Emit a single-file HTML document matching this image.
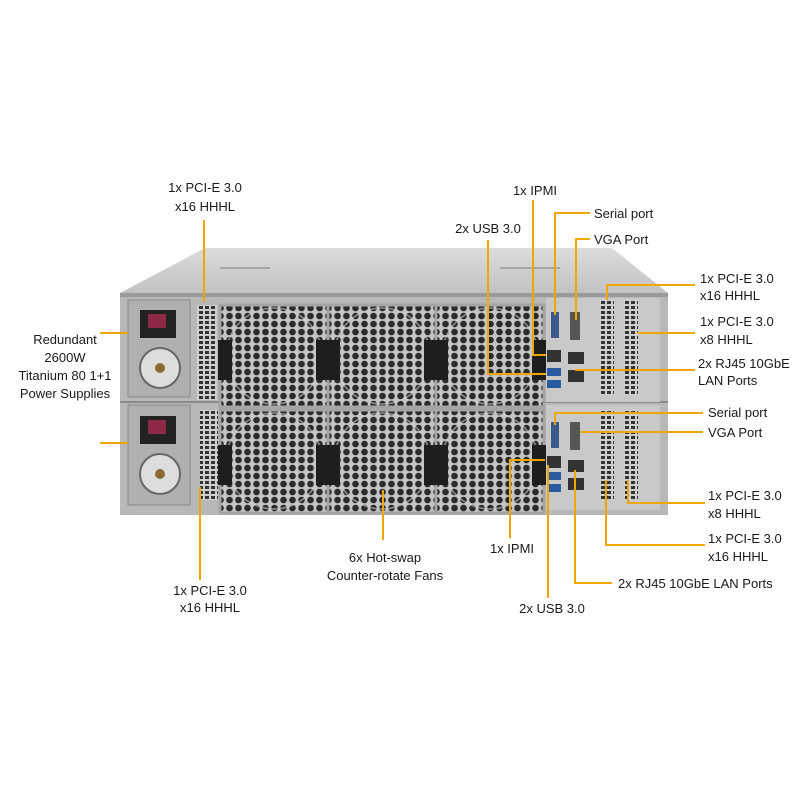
<!DOCTYPE html>
<html><head><meta charset="utf-8"><style>
html,body{margin:0;padding:0;background:#fff;}
svg text{font-family:"Liberation Sans",Arial,sans-serif;font-size:13px;fill:#1a1a1a;}
</style></head><body>
<svg width="800" height="800" viewBox="0 0 800 800" xmlns="http://www.w3.org/2000/svg">
<defs>
<pattern id="hex" width="9" height="8" patternUnits="userSpaceOnUse">
<rect width="9" height="8" fill="#c4c4c4"/>
<circle cx="4.5" cy="4" r="3.3" fill="#2b2b2b"/>
</pattern>
<pattern id="vent" width="6" height="5" patternUnits="userSpaceOnUse">
<rect width="6" height="5" fill="#cfcfcf"/>
<rect x="1" y="1" width="4" height="3" fill="#333"/>
</pattern>
<linearGradient id="top" x1="0" y1="0" x2="0" y2="1">
<stop offset="0" stop-color="#dcdcdc"/><stop offset="1" stop-color="#c2c2c2"/>
</linearGradient>
</defs>
<!-- top face -->
<polygon points="205,248 612,248 668,293 120,293" fill="url(#top)"/>
<line x1="220" y1="268" x2="270" y2="268" stroke="#999" stroke-width="1.5"/>
<line x1="500" y1="268" x2="560" y2="268" stroke="#999" stroke-width="1.5"/>
<!-- back face -->
<rect x="120" y="293" width="548" height="222" fill="#b8b8b8"/>
<rect x="120" y="293" width="548" height="4" fill="#9a9a9a"/>
<line x1="120" y1="402" x2="668" y2="402" stroke="#8a8a8a" stroke-width="2"/>
<!-- PSUs -->
<g>
<rect x="128" y="300" width="62" height="97" fill="#b0b0b0" stroke="#888"/>
<rect x="140" y="310" width="36" height="28" fill="#222"/>
<rect x="148" y="314" width="18" height="14" fill="#8e2a48"/>
<circle cx="160" cy="368" r="20" fill="#ddd" stroke="#666" stroke-width="2"/>
<circle cx="160" cy="368" r="5" fill="#8a6a30"/>
<rect x="128" y="405" width="62" height="100" fill="#b0b0b0" stroke="#888"/>
<rect x="140" y="416" width="36" height="28" fill="#222"/>
<rect x="148" y="420" width="18" height="14" fill="#8e2a48"/>
<circle cx="160" cy="474" r="20" fill="#ddd" stroke="#666" stroke-width="2"/>
<circle cx="160" cy="474" r="5" fill="#8a6a30"/>
</g>
<rect x="197" y="305" width="20" height="95" fill="url(#vent)"/>
<rect x="200" y="410" width="18" height="90" fill="url(#vent)"/>
<!-- fans -->
<g stroke="#a5a5a5" stroke-width="3">
<rect x="220" y="305" width="108" height="102" fill="url(#hex)"/>
<rect x="328" y="305" width="108" height="102" fill="url(#hex)"/>
<rect x="436" y="305" width="108" height="102" fill="url(#hex)"/>
<rect x="220" y="410" width="108" height="103" fill="url(#hex)"/>
<rect x="328" y="410" width="108" height="103" fill="url(#hex)"/>
<rect x="436" y="410" width="108" height="103" fill="url(#hex)"/>
</g>
<g fill="none" stroke="#d0d0d0" stroke-width="1.5" opacity="0.6">
<circle cx="274" cy="356" r="48"/><circle cx="382" cy="356" r="48"/><circle cx="490" cy="356" r="48"/>
<circle cx="274" cy="461" r="48"/><circle cx="382" cy="461" r="48"/><circle cx="490" cy="461" r="48"/>
</g>
<g fill="#1e1e1e">
<rect x="218" y="340" width="14" height="40"/><rect x="316" y="340" width="24" height="40"/><rect x="424" y="340" width="24" height="40"/><rect x="532" y="340" width="14" height="40"/>
<rect x="218" y="445" width="14" height="40"/><rect x="316" y="445" width="24" height="40"/><rect x="424" y="445" width="24" height="40"/><rect x="532" y="445" width="14" height="40"/>
</g>
<!-- right IO -->
<rect x="546" y="298" width="114" height="104" fill="#c9c9c9"/>
<rect x="546" y="405" width="114" height="105" fill="#c9c9c9"/>
<rect x="551" y="312" width="8" height="26" fill="#3a5a8a"/>
<rect x="570" y="312" width="10" height="28" fill="#555"/>
<rect x="551" y="422" width="8" height="26" fill="#3a5a8a"/>
<rect x="570" y="422" width="10" height="28" fill="#555"/>
<rect x="547" y="350" width="14" height="12" fill="#333"/>
<rect x="547" y="368" width="14" height="8" fill="#2c5aa0"/><rect x="547" y="380" width="14" height="8" fill="#2c5aa0"/>
<rect x="568" y="352" width="16" height="12" fill="#333"/><rect x="568" y="370" width="16" height="12" fill="#333"/>
<rect x="547" y="456" width="14" height="12" fill="#333"/>
<rect x="547" y="472" width="14" height="8" fill="#2c5aa0"/><rect x="547" y="484" width="14" height="8" fill="#2c5aa0"/>
<rect x="568" y="460" width="16" height="12" fill="#333"/><rect x="568" y="478" width="16" height="12" fill="#333"/>
<rect x="600" y="300" width="14" height="95" fill="url(#vent)"/>
<rect x="624" y="300" width="14" height="95" fill="url(#vent)"/>
<rect x="600" y="410" width="14" height="90" fill="url(#vent)"/>
<rect x="624" y="410" width="14" height="90" fill="url(#vent)"/>
<!-- callout lines -->
<g fill="none" stroke="#f0a500" stroke-width="2">
<polyline points="204,220 204,302"/>
<polyline points="128,333 100,333"/><polyline points="128,443 100,443"/>
<polyline points="200,487 200,580"/>
<polyline points="383,490 383,540"/>
<polyline points="533,200 533,355 546,355"/>
<polyline points="488,240 488,374 546,374"/>
<polyline points="590,213 555,213 555,315"/>
<polyline points="590,239 576,239 576,320"/>
<polyline points="695,285 607,285 607,300"/>
<polyline points="695,333 637,333"/>
<polyline points="695,370 575,370"/>
<polyline points="703,413 555,413 555,425"/>
<polyline points="703,432 580,432"/>
<polyline points="705,503 628,503 628,480"/>
<polyline points="705,545 606,545 606,480"/>
<polyline points="612,583 575,583 575,470"/>
<polyline points="548,598 548,465"/>
<polyline points="510,538 510,460 545,460"/>
</g>
<!-- labels -->
<text x="205" y="192" text-anchor="middle">1x PCI-E 3.0</text>
<text x="205" y="211" text-anchor="middle">x16 HHHL</text>
<text x="65" y="344" text-anchor="middle">Redundant</text>
<text x="65" y="362" text-anchor="middle">2600W</text>
<text x="65" y="380" text-anchor="middle">Titanium 80 1+1</text>
<text x="65" y="398" text-anchor="middle">Power Supplies</text>
<text x="210" y="595" text-anchor="middle">1x PCI-E 3.0</text>
<text x="210" y="612" text-anchor="middle">x16 HHHL</text>
<text x="385" y="562" text-anchor="middle">6x Hot-swap</text>
<text x="385" y="580" text-anchor="middle">Counter-rotate Fans</text>
<text x="535" y="195" text-anchor="middle">1x IPMI</text>
<text x="488" y="233" text-anchor="middle">2x USB 3.0</text>
<text x="594" y="218">Serial port</text>
<text x="594" y="244">VGA Port</text>
<text x="700" y="283">1x PCI-E 3.0</text>
<text x="700" y="300">x16 HHHL</text>
<text x="700" y="326">1x PCI-E 3.0</text>
<text x="700" y="344">x8 HHHL</text>
<text x="698" y="368">2x RJ45 10GbE</text>
<text x="698" y="385">LAN Ports</text>
<text x="708" y="417">Serial port</text>
<text x="708" y="437">VGA Port</text>
<text x="708" y="500">1x PCI-E 3.0</text>
<text x="708" y="518">x8 HHHL</text>
<text x="708" y="543">1x PCI-E 3.0</text>
<text x="708" y="561">x16 HHHL</text>
<text x="618" y="588">2x RJ45 10GbE LAN Ports</text>
<text x="512" y="553" text-anchor="middle">1x IPMI</text>
<text x="552" y="613" text-anchor="middle">2x USB 3.0</text>
</svg>
</body></html>
